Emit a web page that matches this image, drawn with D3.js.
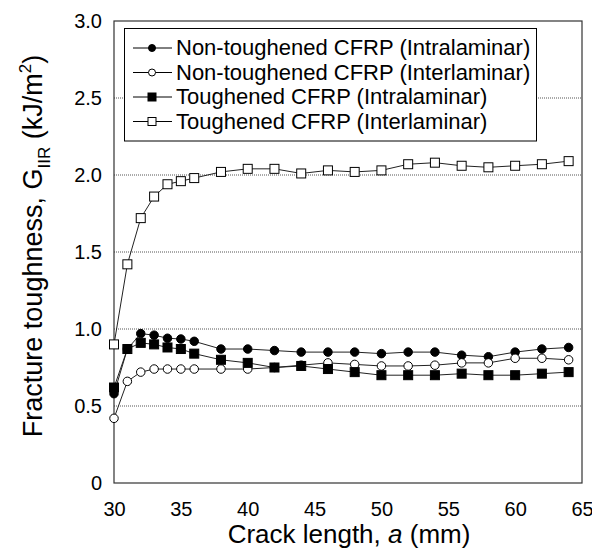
<!DOCTYPE html>
<html>
<head>
<meta charset="utf-8">
<script src="https://cdn.jsdelivr.net/npm/d3@7"></script>
<style>
  body { margin: 0; background: #fff; }
  text { font-family: Arial, "Liberation Sans", sans-serif; fill: #000; }
</style>
</head>
<body>
<div id="chart"></div>
<script>
// --- data ---------------------------------------
var crackLength = [30, 31, 32, 33, 34, 35, 36, 38, 40, 42, 44, 46, 48, 50, 52, 54, 56, 58, 60, 62, 64]

var ntIntra = [0.58, 0.87, 0.97, 0.96, 0.94, 0.935, 0.92, 0.87, 0.87, 0.86, 0.85, 0.85, 0.85, 0.84, 0.85, 0.85, 0.83, 0.82, 0.85, 0.87, 0.88]
var ntInter = [0.42, 0.66, 0.72, 0.74, 0.74, 0.74, 0.74, 0.74, 0.74, 0.75, 0.765, 0.78, 0.77, 0.76, 0.76, 0.765, 0.78, 0.78, 0.81, 0.81, 0.80]
var tIntra  = [0.62, 0.87, 0.91, 0.90, 0.88, 0.87, 0.84, 0.80, 0.78, 0.75, 0.76, 0.74, 0.72, 0.70, 0.70, 0.70, 0.71, 0.70, 0.70, 0.71, 0.72]
var tInter  = [0.90, 1.42, 1.72, 1.86, 1.94, 1.96, 1.98, 2.02, 2.04, 2.04, 2.01, 2.03, 2.02, 2.03, 2.07, 2.08, 2.06, 2.05, 2.06, 2.07, 2.09]

var seriesNames = [
  "Non-toughened CFRP (Intralaminar)",
  "Non-toughened CFRP (Interlaminar)",
  "Toughened CFRP (Intralaminar)",
  "Toughened CFRP (Interlaminar)"
]
var seriesValues = [ntIntra, ntInter, tIntra, tInter]
var seriesMarkers = ["circle", "circle", "square", "square"]
var seriesFilled = [true, false, true, false]

var xTicks = [30, 35, 40, 45, 50, 55, 60, 65]
var yTicks = [0, 0.5, 1.0, 1.5, 2.0, 2.5, 3.0]
var yTickLabels = ["0", "0.5", "1.0", "1.5", "2.0", "2.5", "3.0"]

// --- layout ---------------------------------------
var width = 592,
    height = 548,
    margin = {top: 21, right: 10, bottom: 65, left: 114}

var svg = d3.select("#chart").append("svg")
  .attr("width", width)
  .attr("height", height)

var x = d3.scaleLinear().domain([30, 65]).range([margin.left, width - margin.right])
var y = d3.scaleLinear().domain([0, 3]).range([height - margin.bottom, margin.top])

// gridlines (dotted)
svg.append("g")
  .selectAll("line")
  .data(yTicks.filter(d => d > 0 && d < 3))
  .enter().append("line")
    .attr("x1", x(30)).attr("x2", x(65))
    .attr("y1", d => y(d)).attr("y2", d => y(d))
    .style("stroke", "#555")
    .style("stroke-width", 1)
    .style("stroke-dasharray", "1,1")

// axes with no tick marks
var xAxis = svg.append("g")
  .attr("transform", `translate(0,${y(0)})`)
  .call(d3.axisBottom(x).tickValues(xTicks).tickSize(0).tickPadding(19))
xAxis.select(".domain").remove()
xAxis.selectAll("text").style("font-size", "20px").attr("font-family", null)

var yAxis = svg.append("g")
  .attr("transform", `translate(${x(30)},0)`)
  .call(d3.axisLeft(y).tickValues(yTicks).tickFormat((d, i) => yTickLabels[i]).tickSize(0).tickPadding(12))
yAxis.select(".domain").remove()
yAxis.selectAll("text").style("font-size", "20px").attr("font-family", null)

// frame
svg.append("rect")
  .attr("x", x(30)).attr("y", y(3))
  .attr("width", x(65) - x(30)).attr("height", y(0) - y(3))
  .style("fill", "none")
  .style("stroke", "#333")
  .style("stroke-width", 1.2)

// axis titles
svg.append("text")
  .attr("x", (x(30) + x(65)) / 2 + 1)
  .attr("y", 543)
  .attr("text-anchor", "middle")
  .style("font-size", "26px")
  .html('Crack length, <tspan font-style="italic">a</tspan> (mm)')

svg.append("text")
  .attr("transform", `translate(42,${(y(0) + y(3)) / 2 - 6}) rotate(-90)`)
  .attr("text-anchor", "middle")
  .style("font-size", "27px")
  .html('Fracture toughness, G<tspan font-size="17px" dy="8">IIR</tspan><tspan dy="-8"> (kJ/m</tspan><tspan font-size="17px" dy="-11">2</tspan><tspan dy="11">)</tspan>')

// --- series ---------------------------------------
var line = d3.line()
  .x((d, i) => x(crackLength[i]))
  .y(d => y(d))

function drawMarker(g, type, filled, cx, cy, size) {
  if (type === "circle") {
    g.append("circle")
      .attr("cx", cx).attr("cy", cy).attr("r", size / 2)
      .style("fill", filled ? "#000" : "#fff")
      .style("stroke", "#000").style("stroke-width", 1)
  } else {
    g.append("rect")
      .attr("x", cx - size / 2).attr("y", cy - size / 2)
      .attr("width", size).attr("height", size)
      .style("fill", filled ? "#000" : "#fff")
      .style("stroke", "#000").style("stroke-width", 1)
  }
}

// legend box (drawn before series, covers the 2.5 gridline)
var legend = svg.append("g")
legend.append("rect")
  .attr("x", 124.5).attr("y", 28.5)
  .attr("width", 412).attr("height", 112.5)
  .style("fill", "#fff")
  .style("stroke", "#000")
  .style("stroke-width", 1)

seriesNames.forEach((name, k) => {
  var ly = 48 + k * 24.5
  legend.append("line")
    .attr("x1", 133).attr("x2", 172)
    .attr("y1", ly).attr("y2", ly)
    .style("stroke", "#000").style("stroke-width", 1)
  drawMarker(legend, seriesMarkers[k], seriesFilled[k], 152, ly, seriesMarkers[k] === "circle" ? 7 : 8)
  legend.append("text")
    .attr("x", 176).attr("y", ly + 7)
    .style("font-size", "22px")
    .text(name)
})

seriesValues.forEach((vals, k) => {
  var g = svg.append("g")
  g.append("path")
    .datum(vals)
    .attr("d", line)
    .style("fill", "none")
    .style("stroke", "#222")
    .style("stroke-width", 1)
  vals.forEach((v, i) => {
    drawMarker(g, seriesMarkers[k], seriesFilled[k], x(crackLength[i]), y(v), seriesMarkers[k] === "circle" ? 8.5 : 9)
  })
})
</script>
</body>
</html>
